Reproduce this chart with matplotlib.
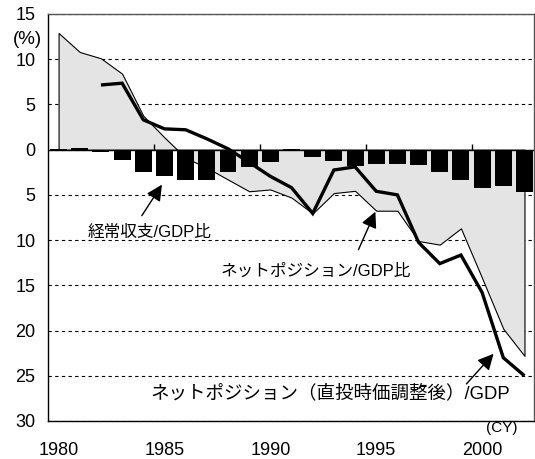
import numpy as np
import matplotlib
matplotlib.use("Agg")
import matplotlib.pyplot as plt
from matplotlib.ticker import FuncFormatter

# US: current account and net international investment position (% of GDP)
years = np.arange(1980, 2003)
ca_gdp = [0.05, 0.15, -0.3, -1.15, -2.5, -2.9, -3.4, -3.4, -2.5, -1.9, -1.4, 0.05,
          -0.85, -1.3, -1.85, -1.6, -1.6, -1.7, -2.5, -3.3, -4.25, -4.0, -4.65]
nip_gdp = [12.9, 10.8, 10.1, 8.4, 3.75, 1.35, -0.9, -2.0, -3.3, -4.6, -4.4, -5.3,
           -7.05, -4.8, -4.55, -6.75, -6.75, -10.1, -10.5, -8.7, -14.2, -19.8, -22.8]
nip_mv_gdp = [np.nan, np.nan, 7.15, 7.35, 3.3, 2.3, 2.2, 1.2, 0.1, -1.4, -2.95, -4.2,
              -7.05, -2.25, -1.9, -4.6, -5.0, -10.25, -12.6, -11.65, -15.8, -23.0, -25.0]

xtick_years = [1980, 1985, 1990, 1995, 2000]
ylim = (-30, 15)

plt.rcParams['font.family'] = ['Liberation Sans', 'Noto Sans CJK JP']
plt.rcParams['font.size'] = 13

fig = plt.figure(figsize=(5.35, 4.59), dpi=100)
ax = fig.add_axes([48/535, 38/459, 486/535, 407/459])

ax.fill_between(years, 0, nip_gdp, facecolor='#e4e4e4', edgecolor='k', linewidth=0.8, zorder=1)
ax.plot(years, nip_mv_gdp, color='k', lw=2.4, solid_capstyle='butt', solid_joinstyle='miter', zorder=2)
ax.bar(years, ca_gdp, width=0.8, color='k', zorder=3)
ax.axhline(0, color='k', lw=1, zorder=4)

# small ticks on the zero line between categories
ax.vlines([y - 0.5 for y in xtick_years[1:]], 0, 0.65, color='k', lw=1, zorder=4)

ax.set_xlim(years[0] - 0.5, years[-1] + 0.45)
ax.set_ylim(*ylim)
ax.set_yticks(np.arange(ylim[0], ylim[1] + 1, 5))
ax.yaxis.set_major_formatter(FuncFormatter(lambda v, p: f"{abs(v):.0f}"))
ax.set_xticks(xtick_years)
ax.tick_params(axis='x', length=0, pad=15)
ax.tick_params(axis='y', length=0, pad=9)
ax.set_axisbelow(True)
ax.grid(axis='y', color='k', lw=0.8, ls=(0, (3, 3)))
for s in ax.spines.values():
    s.set_linewidth(1)
ax.spines['top'].set_color('#555555')
ax.spines['right'].set_color('#555555')

arrow = dict(arrowstyle='-|>,head_length=0.6,head_width=0.3', color='k', lw=1,
             mutation_scale=16, shrinkA=0, shrinkB=0)
ax.annotate('', xy=(1984.88, -3.87), xytext=(1983.93, -7.3), arrowprops=arrow, zorder=5)
ax.text(1984.28, -9.1, '経常収支/GDP比', ha='center', va='center', fontsize=12)
ax.annotate('', xy=(1994.96, -6.86), xytext=(1994.16, -11.06), arrowprops=arrow, zorder=5)
ax.text(1992.17, -13.4, 'ネットポジション/GDP比', ha='center', va='center', fontsize=12)
ax.annotate('', xy=(2000.54, -22.57), xytext=(1999.26, -25.9), arrowprops=arrow, zorder=5)
ax.text(1992.81, -26.9, 'ネットポジション（直投時価調整後）/GDP', ha='center', va='center', fontsize=13.3)

fig.text(27/535, 1 - 40/459, '(%)', ha='center', va='center', fontsize=13.5)
fig.text(502/535, 1 - 428/459, '(CY)', ha='center', va='center', fontsize=11)

plt.savefig('out.png', dpi=100)
